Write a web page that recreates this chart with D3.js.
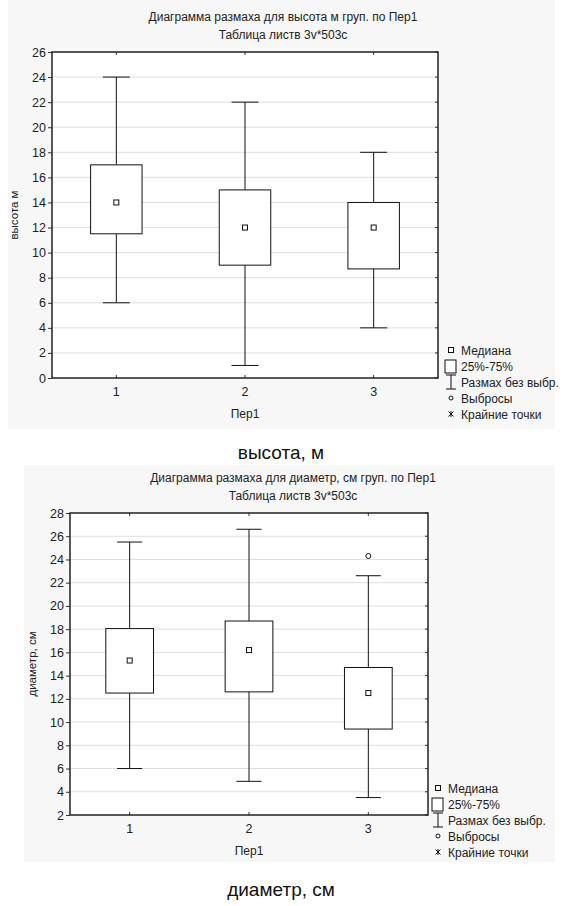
<!DOCTYPE html>
<html>
<head>
<meta charset="utf-8">
<script src="https://cdn.jsdelivr.net/npm/d3@7"></script>
<style>
  body { margin: 0; background: #fff; }
  text { font-family: "Liberation Sans", Arial, sans-serif; }
</style>
</head>
<body>
<script>
"use strict"

// groups on the x axis
var groups = [1, 2, 3];

// высота, м
var hMed = [14, 12, 12];
var hQ1 = [11.5, 9, 8.7];
var hQ3 = [17, 15, 14];
var hMin = [6, 1, 4];
var hMax = [24, 22, 18];
var hOut = [];
var hTicks = [0, 2, 4, 6, 8, 10, 12, 14, 16, 18, 20, 22, 24, 26];

// диаметр, см
var dMed = [15.3, 16.2, 12.5];
var dQ1 = [12.5, 12.6, 9.4];
var dQ3 = [18.05, 18.7, 14.7];
var dMin = [6, 4.9, 3.5];
var dMax = [25.5, 26.6, 22.6];
var dOut = [{g: 3, v: 24.3}];
var dTicks = [2, 4, 6, 8, 10, 12, 14, 16, 18, 20, 22, 24, 26, 28];

var legendLabels = ["Медиана", "25%-75%", "Размах без выбр.", "Выбросы", "Крайние точки"];

var svg = d3.select("body").append("svg")
    .attr("width", 563)
    .attr("height", 906);

function drawChart(cfg) {
    var g = svg.append("g");

    // panel background
    g.append("rect")
        .attr("x", cfg.panel[0]).attr("y", cfg.panel[1])
        .attr("width", cfg.panel[2]).attr("height", cfg.panel[3])
        .attr("fill", "#f7f7f7");

    var x = d3.scaleLinear().domain([0.5, 3.5]).range([cfg.left, cfg.right]);
    var y = d3.scaleLinear().domain([cfg.ticks[0], cfg.ticks[cfg.ticks.length - 1]]).range([cfg.bottom, cfg.top]);

    g.append("rect")
        .attr("x", cfg.left).attr("y", cfg.top)
        .attr("width", cfg.right - cfg.left).attr("height", cfg.bottom - cfg.top)
        .attr("fill", "#fff");

    // grid lines
    g.selectAll(".grid").data(cfg.ticks.slice(1, -1)).enter().append("line")
        .attr("x1", cfg.left).attr("x2", cfg.right)
        .attr("y1", function(d) { return y(d); })
        .attr("y2", function(d) { return y(d); })
        .attr("stroke", "#dedede")
        .attr("stroke-width", 1);

    // left axis
    var yAxis = g.append("g")
        .attr("transform", "translate(" + cfg.left + ",0)")
        .call(d3.axisLeft(y).tickValues(cfg.ticks).tickSize(4).tickSizeOuter(0).tickPadding(2));
    yAxis.select(".domain").remove();
    yAxis.selectAll("text").attr("font-size", "12.5px").attr("fill", "#222")
        .attr("font-family", "Liberation Sans, Arial, sans-serif");
    yAxis.selectAll("line").attr("stroke", "#333");

    // right inner ticks
    g.selectAll(".rtick").data(cfg.ticks).enter().append("line")
        .attr("x1", cfg.right - 3).attr("x2", cfg.right)
        .attr("y1", function(d) { return y(d); })
        .attr("y2", function(d) { return y(d); })
        .attr("stroke", "#333");

    // top & bottom inner ticks
    groups.forEach(function(c) {
        g.append("line").attr("x1", x(c)).attr("x2", x(c))
            .attr("y1", cfg.top).attr("y2", cfg.top + 3).attr("stroke", "#333");
        g.append("line").attr("x1", x(c)).attr("x2", x(c))
            .attr("y1", cfg.bottom).attr("y2", cfg.bottom - 3).attr("stroke", "#333");
        g.append("text")
            .attr("x", x(c)).attr("y", cfg.bottom + 18)
            .attr("text-anchor", "middle")
            .attr("font-size", "12.5px").attr("fill", "#222")
            .text(c);
    });

    // whiskers
    var bw = 0.4, cw = 0.21;
    groups.forEach(function(c, i) {
        g.append("line").attr("x1", x(c)).attr("x2", x(c))
            .attr("y1", y(cfg.max[i])).attr("y2", y(cfg.q3[i]))
            .attr("stroke", "#111");
        g.append("line").attr("x1", x(c)).attr("x2", x(c))
            .attr("y1", y(cfg.q1[i])).attr("y2", y(cfg.min[i]))
            .attr("stroke", "#111");
        [cfg.max[i], cfg.min[i]].forEach(function(v) {
            g.append("line")
                .attr("x1", x(c - cw / 2)).attr("x2", x(c + cw / 2))
                .attr("y1", y(v)).attr("y2", y(v))
                .attr("stroke", "#111");
        });
        g.append("rect")
            .attr("x", x(c - bw / 2)).attr("y", y(cfg.q3[i]))
            .attr("width", x(c + bw / 2) - x(c - bw / 2))
            .attr("height", y(cfg.q1[i]) - y(cfg.q3[i]))
            .attr("fill", "#fff").attr("stroke", "#111");
        g.append("rect")
            .attr("x", x(c) - 2.5).attr("y", y(cfg.med[i]) - 2.5)
            .attr("width", 5).attr("height", 5)
            .attr("fill", "#fff").attr("stroke", "#111");
    });

    // outliers
    g.selectAll(".out").data(cfg.out).enter().append("circle")
        .attr("cx", function(d) { return x(d.g); })
        .attr("cy", function(d) { return y(d.v); })
        .attr("r", 2.5)
        .attr("fill", "#fff").attr("stroke", "#111");

    // plot border
    g.append("rect")
        .attr("x", cfg.left).attr("y", cfg.top)
        .attr("width", cfg.right - cfg.left).attr("height", cfg.bottom - cfg.top)
        .attr("fill", "none").attr("stroke", "#222").attr("stroke-width", 1.5);

    // titles
    cfg.titles.forEach(function(t, i) {
        g.append("text")
            .attr("x", cfg.titleX).attr("y", cfg.titleY + i * 18)
            .attr("text-anchor", "middle")
            .attr("font-size", "12px").attr("fill", "#222")
            .text(t);
    });

    // axis titles
    g.append("text")
        .attr("x", (cfg.left + cfg.right) / 2).attr("y", cfg.bottom + 40)
        .attr("text-anchor", "middle")
        .attr("font-size", "12px").attr("fill", "#222")
        .text("Пер1");
    g.append("text")
        .attr("transform", "translate(" + cfg.yLabelX + "," + ((cfg.top + cfg.bottom) / 2) + ") rotate(-90)")
        .attr("text-anchor", "middle")
        .attr("font-size", "11.5px").attr("fill", "#222")
        .text(cfg.yLabel);

    // legend
    var lx = cfg.legendX, ly = cfg.legendY, step = 16;
    var leg = g.append("g").attr("stroke", "#111").attr("fill", "#fff");
    leg.append("rect").attr("x", lx - 2.5).attr("y", ly - 2.5).attr("width", 5).attr("height", 5);
    leg.append("rect").attr("x", lx - 6).attr("y", ly + step - 6).attr("width", 11).attr("height", 13);
    var wy = ly + step * 2;
    leg.append("line").attr("x1", lx).attr("x2", lx).attr("y1", wy - 7).attr("y2", wy + 7);
    leg.append("line").attr("x1", lx - 5).attr("x2", lx + 5).attr("y1", wy - 7).attr("y2", wy - 7);
    leg.append("line").attr("x1", lx - 5).attr("x2", lx + 5).attr("y1", wy + 7).attr("y2", wy + 7);
    leg.append("circle").attr("cx", lx).attr("cy", ly + step * 3).attr("r", 2);
    var ay = ly + step * 4;
    [[-2.5, -2.5, 2.5, 2.5], [-2.5, 2.5, 2.5, -2.5], [0, -3, 0, 3]].forEach(function(s) {
        leg.append("line").attr("x1", lx + s[0]).attr("y1", ay + s[1])
            .attr("x2", lx + s[2]).attr("y2", ay + s[3]);
    });
    legendLabels.forEach(function(t, i) {
        g.append("text")
            .attr("x", lx + 10).attr("y", ly + i * step + 4.5)
            .attr("font-size", "12px").attr("fill", "#222")
            .text(t);
    });

    // caption below the panel
    g.append("text")
        .attr("x", 281).attr("y", cfg.captionY)
        .attr("text-anchor", "middle")
        .attr("font-family", "DejaVu Sans, sans-serif")
        .attr("font-size", "19px").attr("fill", "#111")
        .text(cfg.caption);
}

drawChart({
    panel: [8, 0, 547, 429],
    left: 52, right: 438, top: 52, bottom: 378,
    ticks: hTicks,
    med: hMed, q1: hQ1, q3: hQ3, min: hMin, max: hMax, out: hOut,
    titles: ["Диаграмма размаха для высота м груп. по Пер1", "Таблица листв 3v*503c"],
    titleX: 283, titleY: 21,
    yLabel: "высота м", yLabelX: 18,
    legendX: 451, legendY: 350,
    caption: "высота, м", captionY: 459
});

drawChart({
    panel: [24, 465, 531, 397],
    left: 70, right: 428, top: 513, bottom: 815,
    ticks: dTicks,
    med: dMed, q1: dQ1, q3: dQ3, min: dMin, max: dMax, out: dOut,
    titles: ["Диаграмма размаха для диаметр, см груп. по Пер1", "Таблица листв 3v*503c"],
    titleX: 293, titleY: 482,
    yLabel: "диаметр, см", yLabelX: 36,
    legendX: 438, legendY: 788,
    caption: "диаметр, см", captionY: 896
});
</script>
</body>
</html>
